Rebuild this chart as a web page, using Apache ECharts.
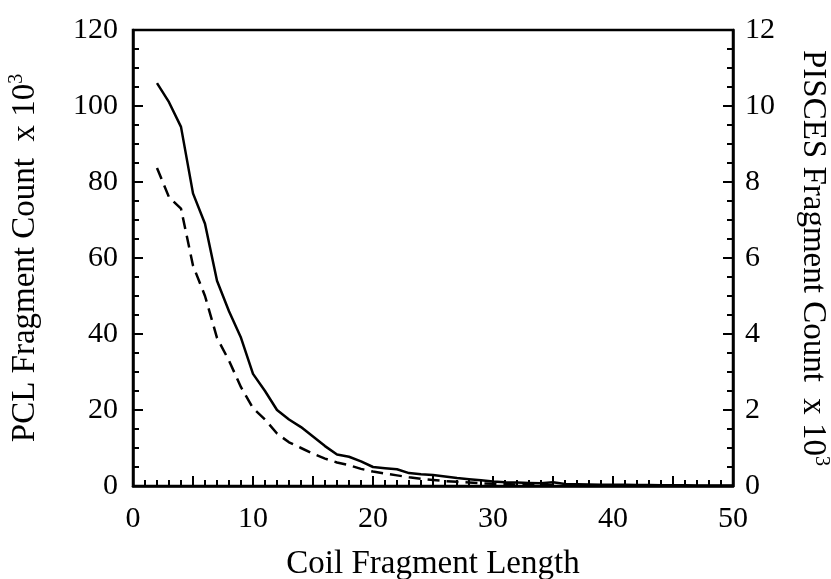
<!DOCTYPE html>
<html><head><meta charset="utf-8">
<script src="https://cdn.jsdelivr.net/npm/echarts@6/dist/echarts.min.js"></script>
<style>html,body{margin:0;padding:0;background:#fff}#c{width:831px;height:579px}</style>
</head><body><div id="c"></div>
<script>
var lengths = [2,3,4,5,6,7,8,9,10,11,12,13,14,15,16,17,18,19,20,21,22,23,24,25,26,27,28,29,30,31,32,33,34,35,36,37,38,39,40,41,42,43,44,45,46,47,48,49,50];
var pclCounts = [106,101,94.5,77,69,54,46,39,29.5,25,20,17.5,15.5,13,10.5,8.3,7.7,6.5,5,4.7,4.4,3.4,3.1,2.9,2.5,2.1,1.8,1.5,1.2,1.0,0.9,0.8,0.7,1.0,0.5,0.45,0.4,0.35,0.3,0.3,0.25,0.25,0.2,0.2,0.2,0.15,0.15,0.15,0.1];
var piscesLengths = [2,3,4,5,6,7,8,9,10,11,12,13,14,15,16,17,18,19,20,21,22,23,24,25,26,27,28,29,30,31,32,33,34,35];
var piscesCounts = [8.37,7.6,7.3,5.8,5.0,3.9,3.3,2.6,2.05,1.75,1.38,1.15,1.0,0.85,0.72,0.62,0.55,0.45,0.38,0.33,0.28,0.23,0.19,0.16,0.13,0.11,0.09,0.07,0.06,0.05,0.04,0.03,0.03,0.02];
var xTicks = [0,10,20,30,40,50];
var leftTicks = [0,20,40,60,80,100,120];
var rightTicks = [0,2,4,6,8,10,12];

var font = 'Liberation Serif';
var chart = echarts.init(document.getElementById('c'));
function pairs(xs, ys){ return xs.map(function(x,i){ return [x, ys[i]]; }); }
var tickStyle = {color:'#000', width:2};
var supRich = {sup:{fontFamily:font, fontSize:20, color:'#000', verticalAlign:'top', padding:[0,0,16,0]}};
chart.setOption({
  animation:false,
  grid:{left:133, right:98, top:30, bottom:93, show:true, borderColor:'#000', borderWidth:2.5, outerBoundsMode:'none', containLabel:false},
  xAxis:{
    type:'value', min:xTicks[0], max:xTicks[xTicks.length-1], interval:5,
    name:'Coil Fragment Length', nameLocation:'middle', nameGap:62,
    nameTextStyle:{fontFamily:font, fontSize:33, color:'#000'},
    axisLine:{show:true, lineStyle:{color:'#000', width:2.5}},
    axisTick:{show:true, inside:true, length:10, lineStyle:tickStyle},
    minorTick:{show:true, splitNumber:5, length:6, lineStyle:tickStyle},
    splitLine:{show:false},
    axisLabel:{fontFamily:font, fontSize:30, color:'#000', margin:18,
      formatter:function(v){ return xTicks.indexOf(v)>=0 ? String(v) : ''; }}
  },
  yAxis:[{
    type:'value', min:leftTicks[0], max:leftTicks[leftTicks.length-1], interval:20, position:'left',
    name:'PCL Fragment Count  x 10{sup|3}', nameLocation:'middle', nameGap:90, nameRotate:90,
    nameTextStyle:{fontFamily:font, fontSize:33, color:'#000', rich:supRich},
    axisLine:{show:true, lineStyle:{color:'#000', width:2.5}},
    axisTick:{show:true, inside:true, length:10, lineStyle:tickStyle},
    minorTick:{show:true, splitNumber:4, length:6, lineStyle:tickStyle},
    splitLine:{show:false},
    axisLabel:{fontFamily:font, fontSize:30, color:'#000', margin:15}
  },{
    type:'value', min:rightTicks[0], max:rightTicks[rightTicks.length-1], interval:2, position:'right',
    name:'PISCES Fragment Count  x 10{sup|3}', nameLocation:'middle', nameGap:62, nameRotate:-90,
    nameTextStyle:{fontFamily:font, fontSize:33, color:'#000', rich:supRich},
    axisLine:{show:true, lineStyle:{color:'#000', width:2.5}},
    axisTick:{show:true, inside:true, length:10, lineStyle:tickStyle},
    minorTick:{show:true, splitNumber:4, length:6, lineStyle:tickStyle},
    splitLine:{show:false},
    axisLabel:{fontFamily:font, fontSize:30, color:'#000', margin:12}
  }],
  series:[{
    name:'PCL', type:'line', yAxisIndex:0, data:pairs(lengths, pclCounts),
    showSymbol:false, symbol:'none', lineStyle:{color:'#000', width:2.5}
  },{
    name:'PISCES', type:'line', yAxisIndex:1, data:pairs(piscesLengths, piscesCounts),
    showSymbol:false, symbol:'none', lineStyle:{color:'#000', width:2.5, type:[12,7]}
  }]
});
</script></body></html>
